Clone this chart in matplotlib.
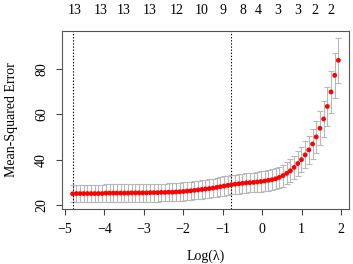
"""cv.glmnet style cross-validation curve: mean-squared error vs log(lambda)."""

import matplotlib

matplotlib.use("Agg")
import matplotlib.pyplot as plt

plt.rcParams["font.family"] = ["Liberation Serif", "DejaVu Serif"]

# log(lambda) path, largest first
LOG_LAMBDA = [
    1.930, 1.837, 1.743, 1.650, 1.556, 1.463, 1.369, 1.276, 1.182, 1.089,
    0.995, 0.902, 0.808, 0.715, 0.621, 0.528, 0.434, 0.341, 0.247, 0.154,
    0.060, -0.033, -0.127, -0.220, -0.314, -0.407, -0.501, -0.594, -0.688, -0.781,
    -0.875, -0.968, -1.062, -1.155, -1.249, -1.342, -1.436, -1.529, -1.623, -1.716,
    -1.810, -1.903, -1.997, -2.090, -2.184, -2.277, -2.371, -2.464, -2.558, -2.651,
    -2.745, -2.838, -2.932, -3.025, -3.119, -3.212, -3.306, -3.399, -3.493, -3.586,
    -3.680, -3.773, -3.867, -3.960, -4.054, -4.147, -4.241, -4.334, -4.428, -4.521,
    -4.615, -4.708, -4.802,
]
CV_MEAN = [
    83.7, 77.1, 69.8, 63.4, 57.9, 53.8, 50.0, 46.9, 44.3, 42.1,
    40.0, 38.3, 36.6, 35.1, 34.0, 33.0, 32.2, 31.6, 31.2, 30.9,
    30.6, 30.4, 30.2, 30.0, 29.9, 29.8, 29.6, 29.4, 29.2, 29.0,
    28.7, 28.4, 28.1, 27.8, 27.5, 27.3, 27.1, 26.9, 26.7, 26.5,
    26.3, 26.2, 26.0, 25.9, 25.8, 25.7, 25.7, 25.6, 25.6, 25.5,
    25.5, 25.5, 25.4, 25.4, 25.4, 25.4, 25.4, 25.3, 25.3, 25.3,
    25.3, 25.3, 25.3, 25.3, 25.1, 25.1, 25.1, 25.1, 25.1, 25.1,
    25.1, 25.1, 25.0,
]
CV_SE = [
    10.0, 9.8, 9.3, 8.7, 8.1, 7.5, 7.0, 6.5, 6.2, 5.9,
    5.6, 5.4, 5.2, 5.0, 4.9, 4.8, 4.7, 4.6, 4.5, 4.5,
    4.4, 4.4, 4.4, 4.3, 4.3, 4.3, 4.3, 4.3, 4.2, 4.2,
    4.2, 4.2, 4.2, 4.1, 4.1, 4.1, 4.1, 4.1, 4.0, 4.0,
    4.0, 4.0, 4.0, 4.0, 3.9, 3.9, 3.9, 3.9, 3.9, 3.9,
    3.9, 3.9, 3.9, 3.8, 3.8, 3.8, 3.8, 3.8, 3.8, 3.8,
    3.8, 3.8, 3.8, 3.8, 3.8, 3.8, 3.8, 3.8, 3.8, 3.8,
    3.8, 3.8, 3.8,
]
LOG_LAMBDA_MIN = -4.802
LOG_LAMBDA_1SE = -0.781

# number of nonzero coefficients shown along the top
NZ_AT = [-4.76, -4.10, -3.52, -2.84, -2.16, -1.53, -1.00, -0.50, -0.10, 0.40, 0.90, 1.34, 1.74]
NZ_LABELS = ["13", "13", "13", "13", "12", "10", "9", "8", "4", "3", "3", "2", "2"]

X_TICKS = [-5, -4, -3, -2, -1, 0, 1, 2]
Y_TICKS = [20, 40, 60, 80]


def main() -> None:
    fig = plt.figure(figsize=(3.53, 2.64), dpi=100)
    ax = fig.add_axes([0.1756, 0.2083, 0.8131, 0.6743])

    ax.errorbar(
        LOG_LAMBDA,
        CV_MEAN,
        yerr=CV_SE,
        fmt="none",
        ecolor="#b8b8b8",
        elinewidth=0.8,
        capsize=2.0,
        capthick=0.8,
        zorder=1,
    )
    ax.scatter(LOG_LAMBDA, CV_MEAN, s=12, c="#ff0000", edgecolors="none", zorder=3)

    for x in (LOG_LAMBDA_MIN, LOG_LAMBDA_1SE):
        ax.axvline(x, color="black", linestyle=(0, (1.2, 1.6)), linewidth=0.8, zorder=2)

    lo = min(m - s for m, s in zip(CV_MEAN, CV_SE))
    hi = max(m + s for m, s in zip(CV_MEAN, CV_SE))
    pad = (hi - lo) * 0.04
    ax.set_ylim(lo - pad, hi + pad)
    xpad = (max(LOG_LAMBDA) - min(LOG_LAMBDA)) * 0.04
    ax.set_xlim(min(LOG_LAMBDA) - xpad, max(LOG_LAMBDA) + xpad)

    ax.set_xticks(X_TICKS)
    ax.set_yticks(Y_TICKS)
    ax.set_yticklabels([str(v) for v in Y_TICKS], rotation=90, va="center")
    ax.tick_params(axis="both", labelsize=10, length=4, width=0.8, color="#444444", pad=6)

    for spine in ax.spines.values():
        spine.set_color("#555555")
        spine.set_linewidth(0.8)

    ax.set_xlabel("Log(λ)", fontsize=10, labelpad=10)
    ax.set_ylabel("Mean-Squared Error", fontsize=10, labelpad=12)

    top = ax.secondary_xaxis("top")
    top.set_xticks(NZ_AT)
    top.set_xticklabels(NZ_LABELS)
    top.tick_params(length=0, labelsize=10, pad=10)
    top.spines["top"].set_visible(False)

    fig.savefig("out.png", dpi=100, facecolor="white")


if __name__ == "__main__":
    main()
